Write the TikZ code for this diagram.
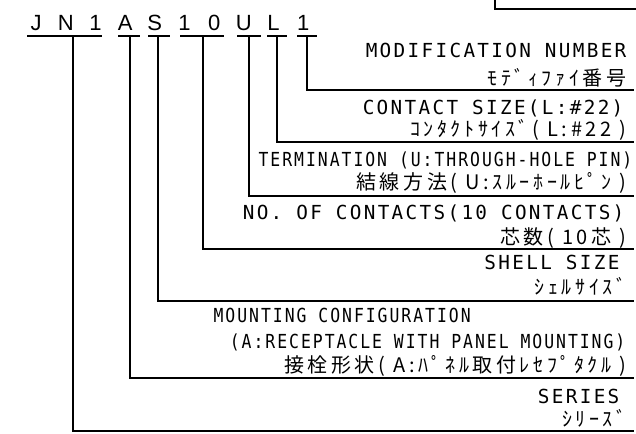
\documentclass[tikz,border=0pt]{standalone}
\usepackage{fontspec}
\usepackage{graphicx}
\usepackage{tikz}
\setmainfont{DejaVu Sans Mono}[LetterSpace=12]
\newfontfamily\jpfont{Noto Sans CJK JP}[LetterSpace=18]
\newfontfamily\codefont{Liberation Sans}

\tikzset{
  lbl/.style={anchor=base east,inner sep=0pt,font=\fontsize{14.5}{16}\selectfont},
  jlbl/.style={anchor=base east,inner sep=0pt,font=\jpfont\fontsize{15}{17}\selectfont},
  code/.style={anchor=base,inner sep=0pt,font=\codefont\fontsize{16.5}{19}\selectfont},
}
\newcommand{\narrow}[1]{\scalebox{0.85}[1]{#1}}

\begin{document}
\begin{tikzpicture}[x=0.75pt,y=0.75pt,yscale=-1,line width=0.9pt]
\useasboundingbox (0,0) rectangle (636,433);

%Shape: Frame corner [id:top]
\draw (495,0) -- (495,9) -- (636,9) ;

% Part number
\foreach \ch [count=\i from 0] in {J,N,1,A,S,1,0,U,L,1}
  \node [code] (ch\i) at ({36+29.7*\i},30) {\ch};

%Straight Lines: underlines and leaders
\foreach \nm/\xa/\xb/\xs/\ly in {mod/297/317/307/90, size/267/287/277/142, term/237/261/249/196, cont/180/224/203/249, shell/148/170/158/301, mount/118/140/130/378, ser/27/102/73/431}{
  \draw (\xa,36) -- (\xb,36) ;
  \coordinate (\nm-top) at (\xs,36) ;
  \coordinate (\nm-end) at (634,\ly) ;
  \draw (\nm-top) |- (\nm-end) ;
}

% Text Node
\node [lbl] (mod-en) at (627,57) {MODIFICATION NUMBER};
\node [jlbl] (mod-jp) at (627,85) {ﾓﾃﾞｨﾌｧｲ番号};
% Text Node
\node [lbl] (size-en) at (624,114) {CONTACT SIZE(L:\#22)};
\node [jlbl] (size-jp) at (627,136) {ｺﾝﾀｸﾄｻｲｽﾞ( L:\#22 )};
% Text Node
\node [lbl] (term-en) at (633,166) {\narrow{TERMINATION (U:THROUGH-HOLE PIN)}};
\node [jlbl] (term-jp) at (627,189) {結線方法( U:ｽﾙｰﾎｰﾙﾋﾟﾝ )};
% Text Node
\node [lbl] (cont-en) at (625,219) {NO. OF CONTACTS(10 CONTACTS)};
\node [jlbl] (cont-jp) at (627,244) {芯数( 10芯 )};
% Text Node
\node [lbl] (shell-en) at (620,269) {SHELL SIZE};
\node [jlbl] (shell-jp) at (627,294) {ｼｪﾙｻｲｽﾞ};
% Text Node
\node [lbl,anchor=base west] (mount-en) at (213,322) {\narrow{MOUNTING CONFIGURATION}};
\node [lbl] (mount-en2) at (626,348) {\narrow{(A:RECEPTACLE WITH PANEL MOUNTING)}};
\node [jlbl] (mount-jp) at (627,372) {接栓形状( A:ﾊﾟﾈﾙ取付ﾚｾﾌﾟﾀｸﾙ )};
% Text Node
\node [lbl] (ser-en) at (620,403) {SERIES};
\node [jlbl] (ser-jp) at (627,426) {ｼﾘｰｽﾞ};

\end{tikzpicture}
\end{document}
